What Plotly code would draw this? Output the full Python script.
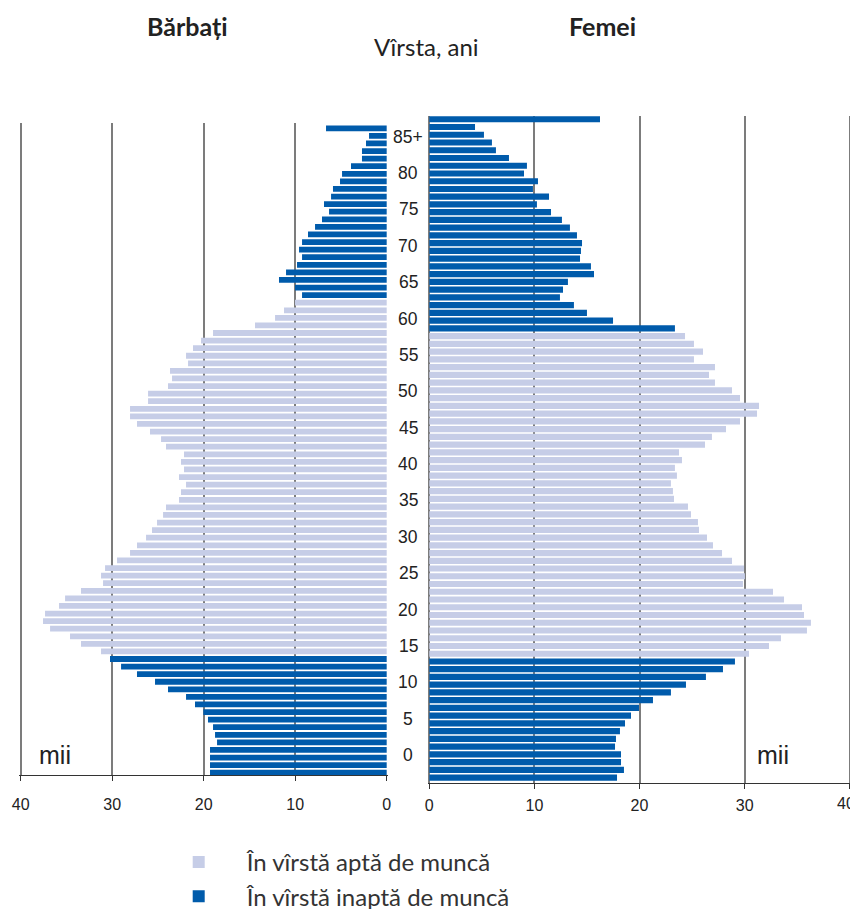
import plotly.graph_objects as go

# ---------------- data ----------------
ages = list(range(86))  # 0 .. 85 (85 = "85+")

men = [19.31, 19.31, 19.31, 19.31, 18.54, 18.76, 18.98, 19.53, 20.04, 20.95,
       21.93, 23.90, 25.32, 27.29, 29.03, 30.24, 31.22, 33.41, 34.61, 36.79,
       37.56, 37.34, 35.81, 35.15, 33.41, 31.00, 31.22, 30.78, 29.47, 28.05,
       27.29, 26.30, 25.65, 25.10, 24.44, 24.12, 22.70, 22.48, 21.93, 22.70,
       22.15, 22.48, 22.15, 24.12, 24.66, 25.87, 27.29, 28.05, 28.05, 26.08,
       26.08, 23.90, 23.46, 23.68, 21.71, 21.93, 21.17, 20.29, 18.98, 14.39,
       12.20, 11.22, 10.02, 9.25, 10.02, 11.77, 11.00, 9.80, 9.25, 9.58,
       9.25, 8.60, 7.83, 7.07, 6.30, 6.85, 6.08, 5.87, 5.10, 4.88,
       3.90, 2.70, 2.70, 2.26, 1.93, 6.63]

women = [17.86, 18.52, 18.24, 18.24, 17.67, 17.76, 18.14, 18.62, 19.19, 19.95,
         21.28, 22.99, 24.42, 26.32, 27.94, 29.08, 30.42, 32.32, 33.46, 35.93,
         36.31, 35.65, 35.46, 33.75, 32.70, 29.84, 30.03, 29.94, 28.80, 27.85,
         26.99, 26.42, 25.66, 25.56, 24.90, 24.61, 23.28, 23.18, 22.99, 23.56,
         23.37, 24.04, 23.76, 26.23, 26.89, 28.23, 29.56, 31.18, 31.37, 29.56,
         28.80, 27.18, 26.61, 27.18, 25.18, 26.04, 25.18, 24.33, 23.37, 17.48,
         15.00, 13.76, 12.43, 12.72, 13.19, 15.67, 15.38, 14.34, 14.43, 14.53,
         14.05, 13.38, 12.62, 11.58, 10.24, 11.39, 9.86, 10.34, 9.01, 9.29,
         7.58, 6.34, 5.96, 5.20, 4.35, 16.24]

men_work_age = (16, 62)
women_work_age = (16, 57)

age_tick_vals = [0, 5, 10, 15, 20, 25, 30, 35, 40, 45, 50, 55, 60, 65, 70, 75, 80, 85]
age_tick_text = ["0", "5", "10", "15", "20", "25", "30", "35", "40", "45",
                 "50", "55", "60", "65", "70", "75", "80", "85+"]
x_ticks = [0, 10, 20, 30, 40]
x_tick_text_men = ["0", "10", "20", "30", "40"]
x_tick_text_women = ["0", "10", "20", "30", ""]   # last label drawn nudged inside the page
x_last_label = "40"

series_names = ["În vîrstă aptă de muncă", "În vîrstă inaptă de muncă"]
titles = ["Bărbați", "Femei", "Vîrsta, ani"]
unit = "mii"

LIGHT = "#c6cde7"
DARK = "#005bab"


def split(vals, rng):
    lo, hi = rng
    work = [v if lo <= a <= hi else None for a, v in zip(ages, vals)]
    non = [None if lo <= a <= hi else v for a, v in zip(ages, vals)]
    return work, non


men_w, men_n = split(men, men_work_age)
wom_w, wom_n = split(women, women_work_age)

fig = go.Figure()
fig.add_trace(go.Bar(x=men_w, y=ages, orientation="h", name=series_names[0],
                     marker=dict(color=LIGHT, line=dict(width=0)), width=0.76,
                     xaxis="x", yaxis="y", legendgroup="a"))
fig.add_trace(go.Bar(x=men_n, y=ages, orientation="h", name=series_names[1],
                     marker=dict(color=DARK, line=dict(width=0)), width=0.76,
                     xaxis="x", yaxis="y", legendgroup="b"))
fig.add_trace(go.Bar(x=wom_w, y=ages, orientation="h", name=series_names[0],
                     marker=dict(color=LIGHT, line=dict(width=0)), width=0.8,
                     xaxis="x2", yaxis="y2", showlegend=False, legendgroup="a"))
fig.add_trace(go.Bar(x=wom_n, y=ages, orientation="h", name=series_names[1],
                     marker=dict(color=DARK, line=dict(width=0)), width=0.8,
                     xaxis="x2", yaxis="y2", showlegend=False, legendgroup="b"))

W, H = 858, 909
OFF = 8  # the page body adds an 8px margin around the figure


def px(x):
    return (x - OFF) / W


def py(y):
    return 1 - (y - OFF) / H


tickfont = dict(family="Liberation Sans, Arial, sans-serif", size=16, color="#222")
xcommon = dict(tickvals=x_ticks, showgrid=True, gridcolor="#7c7c7c", gridwidth=1.5,
               showline=True, linecolor="#333", linewidth=1.2, ticks="outside",
               ticklen=5, tickcolor="#333", tickwidth=1.2, zeroline=False,
               tickfont=tickfont, fixedrange=True)

annotations = []
for v, t in zip(age_tick_vals, age_tick_text):
    annotations.append(dict(x=px(408), xref="paper", y=v, yref="y3", text=t,
                            showarrow=False, xanchor="center", yanchor="middle",
                            font=dict(family="Liberation Sans Narrow, Liberation Sans, Arial",
                                      size=17.5, color="#222")))
title_font_b = dict(family="Lato, sans-serif", size=25, color="#222")
annotations += [
    dict(x=px(187), y=py(26), xref="paper", yref="paper", text="<b>" + titles[0] + "</b>",
         showarrow=False, xanchor="center", yanchor="middle", font=title_font_b),
    dict(x=px(602), y=py(26), xref="paper", yref="paper", text="<b>" + titles[1] + "</b>",
         showarrow=False, xanchor="center", yanchor="middle", font=title_font_b),
    dict(x=px(426), y=py(47), xref="paper", yref="paper", text=titles[2],
         showarrow=False, xanchor="center", yanchor="middle",
         font=dict(family="Lato, sans-serif", size=24, color="#222")),
    dict(x=px(55), y=py(755), xref="paper", yref="paper", text=unit,
         showarrow=False, xanchor="center", yanchor="middle",
         font=dict(family="Liberation Sans, Arial", size=25, color="#222")),
    dict(x=px(773), y=py(755), xref="paper", yref="paper", text=unit,
         showarrow=False, xanchor="center", yanchor="middle",
         font=dict(family="Liberation Sans, Arial", size=25, color="#222")),
    dict(x=px(846), y=py(803), xref="paper", yref="paper", text=x_last_label,
         showarrow=False, xanchor="center", yanchor="middle", font=tickfont),
]

fig.update_layout(
    width=W, height=H,
    margin=dict(l=0, r=0, t=0, b=0, autoexpand=False),
    paper_bgcolor="white", plot_bgcolor="white",
    barmode="overlay",
    xaxis=dict(domain=[px(19.33), px(387.6)], range=[40.15, -0.1], anchor="y",
               ticktext=x_tick_text_men, ticklabelstandoff=10, **xcommon),
    yaxis=dict(domain=[py(775), py(123)], range=[-0.3, 85.7], visible=False,
               anchor="x", fixedrange=True),
    xaxis2=dict(domain=[px(428.25), px(851.3)], range=[-0.1, 40.15], anchor="y2",
                ticktext=x_tick_text_women, ticklabelstandoff=3, **xcommon),
    yaxis2=dict(domain=[py(782.7), py(115.7)], range=[-0.65, 85.46], visible=False,
                anchor="x2", fixedrange=True),
    yaxis3=dict(domain=[py(775), py(123)], range=[-2.75, 86.88], visible=False,
                overlaying="y", anchor="x", fixedrange=True),
    showlegend=True,
    legend=dict(x=px(150.7), xanchor="left", y=py(840), yanchor="top",
                orientation="v", traceorder="normal", itemwidth=86, tracegroupgap=0,
                font=dict(family="Lato, sans-serif", size=24, color="#333"),
                bgcolor="rgba(0,0,0,0)"),
    annotations=annotations,
)

fig.write_html("out.html")
